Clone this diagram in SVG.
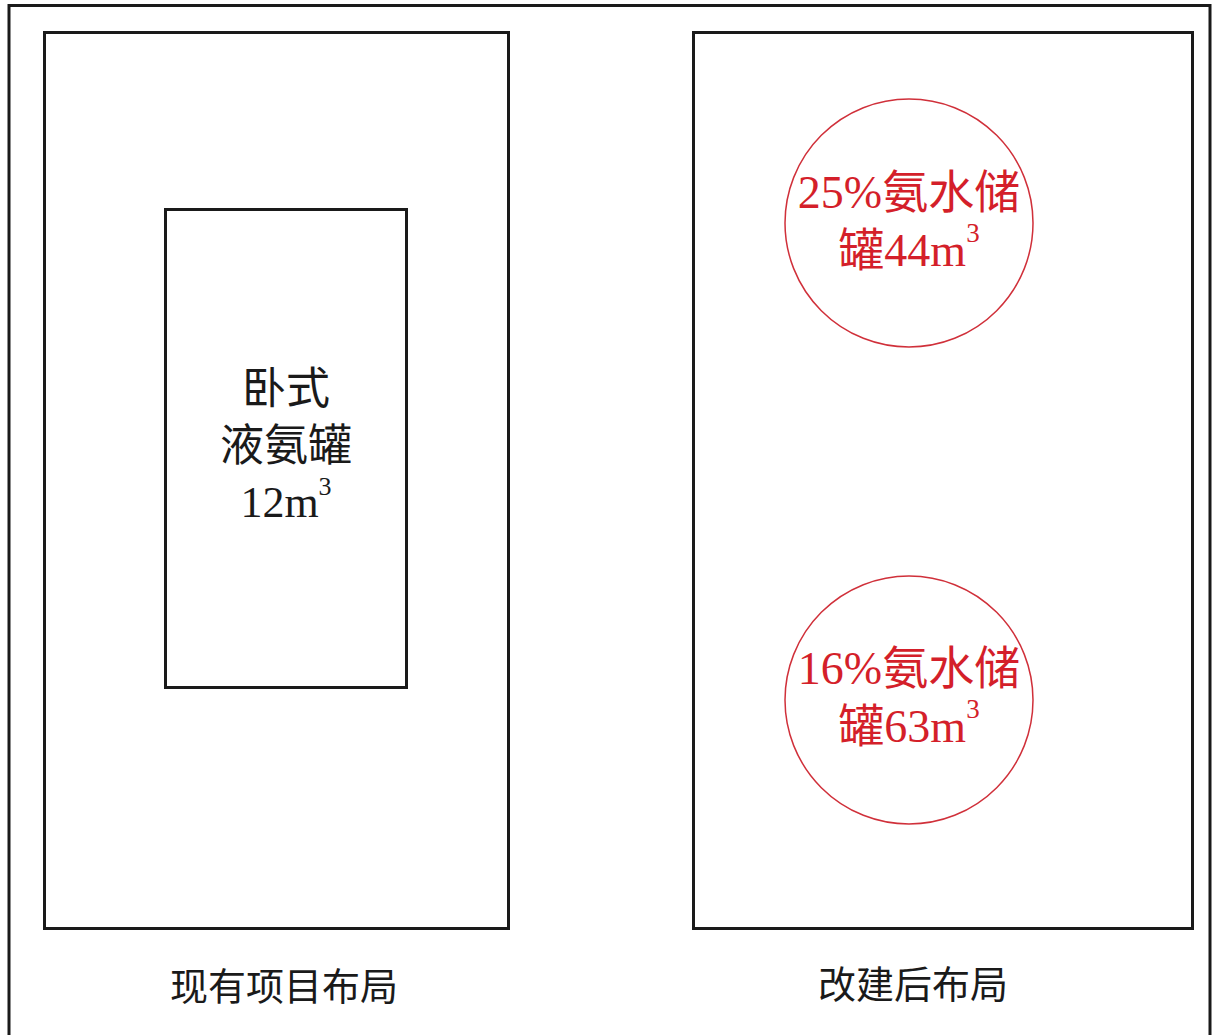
<svg xmlns="http://www.w3.org/2000/svg" width="1212" height="1035" viewBox="0 0 1212 1035">
<style>
.frame{fill:none;stroke:#1a1a1a;stroke-width:3}
.tank{fill:none;stroke:#d0303a;stroke-width:1.5}
.blk{font-family:"Liberation Serif","Noto Sans CJK SC",serif;fill:#1a1a1a}
.red{font-family:"Liberation Serif","Noto Sans CJK SC",serif;fill:#d41f2a;font-size:46px}
.cap{font-family:"Liberation Serif","Noto Sans CJK SC",serif;fill:#1a1a1a;font-size:38px}
</style>
<rect width="1212" height="1035" fill="#ffffff"/>
<g id="outer-frame">
<path class="frame" d="M9,1040 V5.5 H1210 V1040"/>
</g>
<g id="existing-layout">
<rect class="frame" x="44.5" y="32.5" width="464" height="896"/>
<text class="cap" x="284" y="1000" text-anchor="middle">现有项目布局</text>
</g>
<g id="horizontal-tank">
<rect class="frame" x="165.5" y="209.5" width="241" height="478"/>
<text class="blk" font-size="44" text-anchor="middle"><tspan x="286" y="404">卧式</tspan><tspan x="286" y="461">液氨罐</tspan><tspan x="286" y="517">12m<tspan font-size="26" dy="-22">3</tspan></tspan></text>
</g>
<g id="rebuilt-layout">
<rect class="frame" x="693.5" y="32.5" width="499" height="896"/>
<text class="cap" x="913" y="998" text-anchor="middle">改建后布局</text>
</g>
<g id="tank-25">
<circle class="tank" cx="909" cy="223" r="124"/>
<text class="red" text-anchor="middle"><tspan x="909" y="208">25%氨水储</tspan><tspan x="909" y="266">罐44m<tspan font-size="27" dy="-24">3</tspan></tspan></text>
</g>
<g id="tank-16">
<circle class="tank" cx="909" cy="700" r="124"/>
<text class="red" text-anchor="middle"><tspan x="909" y="684">16%氨水储</tspan><tspan x="909" y="742">罐63m<tspan font-size="27" dy="-24">3</tspan></tspan></text>
</g>
<g id="connectors"/>
</svg>
